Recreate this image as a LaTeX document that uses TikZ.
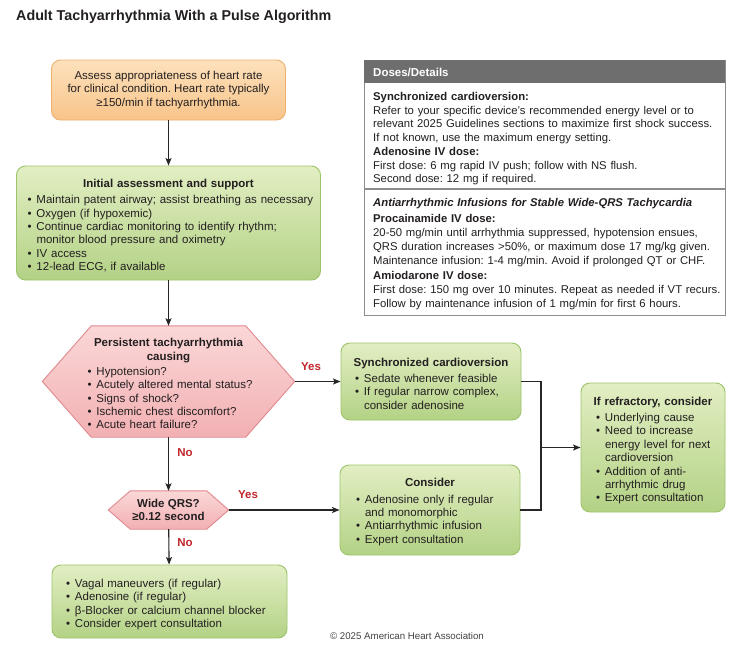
\documentclass[tikz,border=0pt]{standalone}
\usepackage{fontspec}
\setmainfont{Liberation Sans}
\usetikzlibrary{arrows.meta,backgrounds,calc}
\setlength{\parskip}{0pt}
\frenchspacing
\definecolor{orgtop}{HTML}{FDE1BC}
\definecolor{orgbot}{HTML}{F8C48A}
\definecolor{orgline}{HTML}{EDB06E}
\definecolor{grtop}{HTML}{E2EEC3}
\definecolor{grbot}{HTML}{B3D285}
\definecolor{grline}{HTML}{9CC46A}
\definecolor{pktop}{HTML}{FBD7D7}
\definecolor{pkbot}{HTML}{F2B0B3}
\definecolor{pkline}{HTML}{E0898E}
\definecolor{yesred}{HTML}{C1272D}
\definecolor{hdgray}{HTML}{6E6E6E}
\definecolor{bdgray}{HTML}{8C8C8C}
\definecolor{txt}{HTML}{231F20}
\definecolor{arr}{HTML}{262626}
\newcommand\fs{\fontsize{11.5}{13.4}\selectfont}
\newcommand\dsa{\fontsize{11.3}{13.4}\selectfont}
\newcommand\dsb{\fontsize{11.3}{14}\selectfont}
% \hd[space below]{top shift}{heading}
\newcommand\hd[3][2.5pt]{{\centering\bfseries\rule{0pt}{\dimexpr\fontcharht\font`\d+#2*2\relax}#3\par}\vspace{#1}}
\newcommand\itm{\par\noindent\makebox[9pt][l]{\textbullet}}
\newcommand\cnt{\par\noindent\hspace*{9pt}}
\tikzset{
  box/.style={rounded corners=9pt, draw=grline, line width=0.9pt, top color=grtop, bottom color=grbot, inner sep=0pt, align=left, font=\fs, text=txt},
  obox/.style={box, draw=orgline, top color=orgtop, bottom color=orgbot, align=center},
  hexa/.style={draw=pkline, line width=0.9pt, top color=pktop, bottom color=pkbot},
  flow/.style={draw=arr, line width=1.1pt, -{Stealth[length=7.5pt,width=6pt,inset=1.5pt]}},
  link/.style={draw=arr, line width=1.1pt},
  yn/.style={text=yesred, font=\fs\bfseries, inner sep=0pt},
  dtext/.style={anchor=north west, inner sep=0pt, text width=362pt, align=left, text=txt}
}
\begin{document}
\begin{tikzpicture}[x=1pt,y=-1pt]
\useasboundingbox (0,0) rectangle (740,651);
\begin{scope}[on background layer]
\fill[white] (0,0) rectangle (740,651);
\end{scope}
% title
\node[anchor=west, inner sep=0pt, font=\fontsize{14.3}{17}\selectfont\bfseries, text=txt] (title) at (16,17) {Adult Tachyarrhythmia With a Pulse Algorithm};
% orange
\node[obox, minimum width=234pt, minimum height=60pt] (assess) at (168.5,90)
 {Assess appropriateness of heart rate\\for clinical condition. Heart rate typically\\≥150/min if tachyarrhythmia.};
% initial
\node[box, text width=304pt, minimum height=114pt] (init) at (168.5,223)
 {\hd{3pt}{Initial assessment and support}
  {\leftskip=11pt
  \itm Maintain patent airway; assist breathing as necessary
  \itm Oxygen (if hypoxemic)
  \itm Continue cardiac monitoring to identify rhythm;
  \cnt monitor blood pressure and oximetry
  \itm IV access
  \itm 12-lead ECG, if available\par}};
% hexagon
\node[inner sep=0pt, text width=252pt, minimum height=111pt, align=left, font=\fs, text=txt] (hex) at (168.5,381.5)
 {\hd[1.7pt]{2.5pt}{Persistent tachyarrhythmia\\causing}
  {\leftskip=45pt
  \itm Hypotension?
  \itm Acutely altered mental status?
  \itm Signs of shock?
  \itm Ischemic chest discomfort?
  \itm Acute heart failure?\par}};
\begin{scope}[on background layer]
\path[hexa] (hex.west) -- ($(hex.north west)+(49,0)$) -- ($(hex.north east)+(-49,0)$) -- (hex.east) -- ($(hex.south east)+(-49,0)$) -- ($(hex.south west)+(49,0)$) -- cycle;
\end{scope}
% sync
\node[box, text width=180pt, minimum height=77pt] (sync) at (431,381.5)
 {\hd{2.5pt}{Synchronized cardioversion}
  {\leftskip=14pt
  \itm Sedate whenever feasible
  \itm If regular narrow complex,
  \cnt consider adenosine\par}};
% refractory
\node[box, text width=144pt, minimum height=129pt] (refr) at (653,447.5)
 {\hd{3.5pt}{If refractory, consider}
  {\leftskip=15pt
  \itm Underlying cause
  \itm Need to increase
  \cnt energy level for next
  \cnt cardioversion
  \itm Addition of anti-
  \cnt arrhythmic drug
  \itm Expert consultation\par}};
% wide qrs
\node[inner sep=0pt, minimum width=120pt, minimum height=38pt, align=center, font=\fs\bfseries, text=txt] (wqrs) at (168.5,510)
 {Wide QRS?\\≥0.12 second};
\begin{scope}[on background layer]
\path[hexa] (wqrs.west) -- ($(wqrs.north west)+(22,0)$) -- ($(wqrs.north east)+(-22,0)$) -- (wqrs.east) -- ($(wqrs.south east)+(-22,0)$) -- ($(wqrs.south west)+(22,0)$) -- cycle;
\end{scope}
% consider
\node[box, text width=180pt, minimum height=90pt] (cons) at (430,510)
 {\hd[3.5pt]{2pt}{Consider}
  {\leftskip=16pt
  \itm Adenosine only if regular
  \cnt and monomorphic
  \itm Antiarrhythmic infusion
  \itm Expert consultation\par}};
% vagal
\node[box, text width=235pt, minimum height=73pt] (vagal) at (169.5,601.5)
 {{\leftskip=14pt
  \itm\rule{0pt}{13.5pt}Vagal maneuvers (if regular)
  \itm Adenosine (if regular)
  \itm β-Blocker or calcium channel blocker
  \itm Consider expert consultation\par}};
% doses box
\node[draw=bdgray, line width=1.2pt, anchor=north west, minimum width=361pt, minimum height=255pt, inner sep=0pt] (doses) at (364,60) {};
\node[fill=hdgray, anchor=north west, minimum width=361pt, minimum height=23pt, inner sep=0pt] (dhead) at (364,60) {};
\node[anchor=west, inner sep=0pt, font=\fs\bfseries, text=white] (dheadtxt) at (373,72) {Doses/Details};
\draw[draw=bdgray, line width=1.2pt] (doses.west |- 0,189) coordinate (sepL) -- (doses.east |- 0,189) coordinate (sepR);
\node[dtext, font=\dsa] (d1) at (373,92.5)
 {\textbf{Synchronized cardioversion:}\\
  Refer to your specific device's recommended energy level or to\\
  relevant 2025 Guidelines sections to maximize first shock success.\\
  If not known, use the maximum energy setting.\\[1.5pt]
  \textbf{Adenosine IV dose:}\\
  First dose: 6 mg rapid IV push; follow with NS flush.\\
  Second dose: 12 mg if required.};
\node[dtext, font=\dsb] (d2) at (373,198.5)
 {\textbf{\itshape Antiarrhythmic Infusions for Stable Wide-QRS Tachycardia}\\[1.5pt]
  \textbf{Procainamide IV dose:}\\
  20-50 mg/min until arrhythmia suppressed, hypotension ensues,\\
  QRS duration increases >50\%, or maximum dose 17 mg/kg given.\\
  Maintenance infusion: 1-4 mg/min. Avoid if prolonged QT or CHF.\\[1.5pt]
  \textbf{Amiodarone IV dose:}\\
  First dose: 150 mg over 10 minutes. Repeat as needed if VT recurs.\\
  Follow by maintenance infusion of 1 mg/min for first 6 hours.};
% connectors
\draw[flow] (assess) -- (init);
\draw[flow] (init) -- (hex);
\draw[flow] (hex.east) -- (sync.west);
\draw[flow] (hex) -- (wqrs);
\draw[flow] (wqrs.east) -- (cons.west);
\draw[flow] (wqrs) -- (vagal);
\coordinate (j) at (541,447.5);
\draw[link] (sync.east) -| (j);
\draw[link] (cons.east) -| (j);
\draw[flow] (j) -- (refr.west);
% labels
\node[yn] (yes1) at (311,367) {Yes};
\node[yn] (no1) at (185,453) {No};
\node[yn] (yes2) at (248,495) {Yes};
\node[yn] (no2) at (185,543) {No};
% footer
\node[inner sep=0pt, font=\fontsize{9.7}{12}\selectfont, text=txt!85] (copy) at (407,636) {© 2025 American Heart Association};
\end{tikzpicture}
\end{document}
